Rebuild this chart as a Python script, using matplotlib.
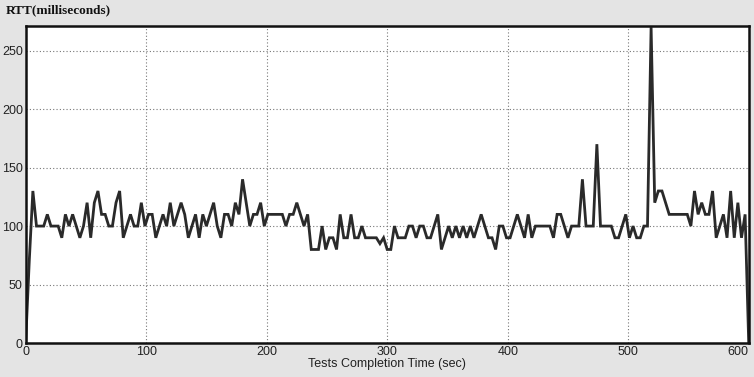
import numpy as np
import matplotlib
matplotlib.use("Agg")
import matplotlib.pyplot as plt

# RTT samples, one every 3 s from 0 to 600 s
rtt = [
    0, 70, 130, 100, 100, 100, 110, 100, 100, 100,
    90, 110, 100, 110, 100, 90, 100, 120, 90, 120,
    130, 110, 110, 100, 100, 120, 130, 90, 100, 110,
    100, 100, 120, 100, 110, 110, 90, 100, 110, 100,
    120, 100, 110, 120, 110, 90, 100, 110, 90, 110,
    100, 110, 120, 100, 90, 110, 110, 100, 120, 110,
    140, 120, 100, 110, 110, 120, 100, 110, 110, 110,
    110, 110, 100, 110, 110, 120, 110, 100, 110, 80,
    80, 80, 100, 80, 90, 90, 80, 110, 90, 90,
    110, 90, 90, 100, 90, 90, 90, 90, 85, 90,
    80, 80, 100, 90, 90, 90, 100, 100, 90, 100,
    100, 90, 90, 100, 110, 80, 90, 100, 90, 100,
    90, 100, 90, 100, 90, 100, 110, 100, 90, 90,
    80, 100, 100, 90, 90, 100, 110, 100, 90, 110,
    90, 100, 100, 100, 100, 100, 90, 110, 110, 100,
    90, 100, 100, 100, 140, 100, 100, 100, 170, 100,
    100, 100, 100, 90, 90, 100, 110, 90, 100, 90,
    90, 100, 100, 270, 120, 130, 130, 120, 110, 110,
    110, 110, 110, 110, 100, 130, 110, 120, 110, 110,
    130, 90, 100, 110, 90, 130, 90, 120, 90, 110,
    0,
]
t = np.arange(0, 601, 3)

xticks = [0, 100, 200, 300, 400, 500, 600]
yticks = [0, 50, 100, 150, 200, 250]

fig = plt.figure(figsize=(7.54, 3.77), dpi=100, facecolor="#e4e4e4")
ax = fig.add_axes([0.034, 0.090, 0.959, 0.841])
ax.set_facecolor("white")

ax.plot(t, rtt, color="#2a2a2a", lw=2.0, solid_joinstyle="miter")

ax.set_xlim(0, 600)
ax.set_ylim(0, 271)
ax.set_xticks(xticks)
ax.set_yticks(yticks)
ax.grid(True, color="#777777", ls=(0, (1, 2)), lw=0.8)

for s in ax.spines.values():
    s.set_linewidth(1.8)
    s.set_color("#111111")

ax.tick_params(length=0, pad=2, labelsize=9, colors="#222222")
for lab in ax.get_xticklabels() + ax.get_yticklabels():
    lab.set_family("Liberation Sans")
# keep the last x label inside the picture
ax.get_xticklabels()[-1].set_ha("right")

ax.set_xlabel("Tests Completion Time (sec)", fontsize=9, family="Liberation Sans",
              color="#222222", labelpad=0)
fig.text(0.008, 0.972, "RTT(milliseconds)", fontsize=9.5, fontweight="bold",
         family="Liberation Serif", va="center", ha="left", color="#111111")

fig.savefig("out.png", dpi=100, facecolor=fig.get_facecolor())
